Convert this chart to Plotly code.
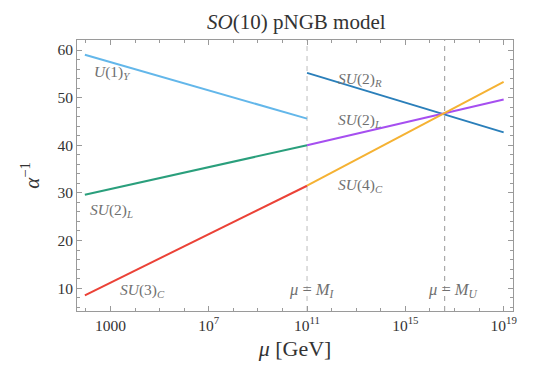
import numpy as np
import plotly.graph_objects as go

# Scales (GeV)
M_Z = 91.1876
M_I = 1e11
M_U = 10**16.6
MU_END = 1e19

# Inverse couplings
u1y_mu = [M_Z, M_I];      u1y_val = [59.0, 45.6]
su2l_lo_mu = [M_Z, M_I];  su2l_lo_val = [29.6, 40.0]
su3c_mu = [M_Z, M_I];     su3c_val = [8.5, 31.5]
su2r_mu = [M_I, MU_END];  su2r_val = [55.2, 42.7]
su2l_hi_mu = [M_I, MU_END]; su2l_hi_val = [40.0, 49.6]
su4c_mu = [M_I, MU_END];  su4c_val = [31.5, 53.3]

x_tickvals = [1e3, 1e7, 1e11, 1e15, 1e19]
x_ticktext = ["1000", "10<sup>7</sup>", "10<sup>11</sup>", "10<sup>15</sup>", "10<sup>19</sup>"]
x_minor = [10.0**k for k in range(2, 20)]
y_tickvals = [10, 20, 30, 40, 50, 60]
y_range = [5.2, 62.1]

series = [
    (u1y_mu, u1y_val, "#63b7ea"),
    (su2l_lo_mu, su2l_lo_val, "#2a9f7c"),
    (su3c_mu, su3c_val, "#eb4237"),
    (su2r_mu, su2r_val, "#2a7fba"),
    (su2l_hi_mu, su2l_hi_val, "#a64ff0"),
    (su4c_mu, su4c_val, "#f5b233"),
]

fig = go.Figure()
# Vertical dashed lines at the scales (drawn first so they sit beneath)
fig.add_trace(go.Scatter(x=[M_I, M_I], y=y_range, mode="lines", showlegend=False,
                         line=dict(color="#bdbdbd", width=1, dash="5px,5px"), hoverinfo="skip"))
fig.add_trace(go.Scatter(x=[M_U, M_U], y=y_range, mode="lines", showlegend=False,
                         line=dict(color="#999999", width=1, dash="5px,5px"), hoverinfo="skip"))

for mu, val, col in series:
    fig.add_trace(go.Scatter(x=mu, y=val, mode="lines",
                             line=dict(color=col, width=2), showlegend=False))

lab_font = dict(family="Liberation Serif", size=15.5, color="#707070")
labels = [
    (10**2.24, 55.2, "<i>U</i>(1)<sub><i>Y</i></sub>"),
    (10**2.07, 26.4, "<i>SU</i>(2)<sub><i>L</i></sub>"),
    (10**3.3, 9.5, "<i>SU</i>(3)<sub><i>C</i></sub>"),
    (10**12.18, 53.8, "<i>SU</i>(2)<sub><i>R</i></sub>"),
    (10**12.18, 45.3, "<i>SU</i>(2)<sub><i>L</i></sub>"),
    (10**12.18, 31.6, "<i>SU</i>(4)<sub><i>C</i></sub>"),
]
for x, y, t in labels:
    fig.add_annotation(x=np.log10(x), y=y, text=t, showarrow=False,
                       xanchor="left", yanchor="middle", font=lab_font)

mu_font = dict(family="Liberation Serif", size=16.5, color="#707070")
fig.add_annotation(x=np.log10(M_I), y=9.6, text="<i>μ</i> = <i>M<sub>I</sub></i>", showarrow=False,
                   xanchor="center", yanchor="middle", xshift=5, font=mu_font)
fig.add_annotation(x=np.log10(M_U), y=9.6, text="<i>μ</i> = <i>M<sub>U</sub></i>", showarrow=False,
                   xanchor="center", yanchor="middle", xshift=8, font=mu_font)

axis_common = dict(showline=True, linecolor="#9a9a9a", linewidth=1, mirror="allticks",
                   ticks="inside", tickcolor="#9a9a9a", showgrid=False, zeroline=False,
                   tickfont=dict(family="Liberation Serif", size=15.5, color="#333333"))

fig.update_xaxes(type="log", range=[1.64, 19.38], tickvals=x_tickvals, ticktext=x_ticktext,
                 ticklen=5,
                 minor=dict(tickvals=x_minor, ticks="inside", ticklen=3, tickcolor="#9a9a9a", showgrid=False),
                 title=dict(text="<i>μ</i> [GeV]", font=dict(family="Liberation Serif", size=22, color="#333333"), standoff=8),
                 **axis_common)
fig.update_yaxes(range=y_range, tickvals=y_tickvals, ticklen=5,
                 minor=dict(dtick=2, ticks="inside", ticklen=3, tickcolor="#9a9a9a", showgrid=False),
                 title=dict(text="<i>α</i><sup>−1</sup>", font=dict(family="Liberation Serif", size=21, color="#333333"), standoff=12),
                 **axis_common)

fig.update_layout(
    width=533, height=383,
    margin=dict(l=77, r=20, t=40, b=72),
    paper_bgcolor="white", plot_bgcolor="white",
    title=dict(text="<i>SO</i>(10) pNGB model", x=0.556, xanchor="center", y=0.943, yanchor="middle",
               font=dict(family="Liberation Serif", size=21, color="#333333")),
    showlegend=False,
)

fig.write_html("out.html")
